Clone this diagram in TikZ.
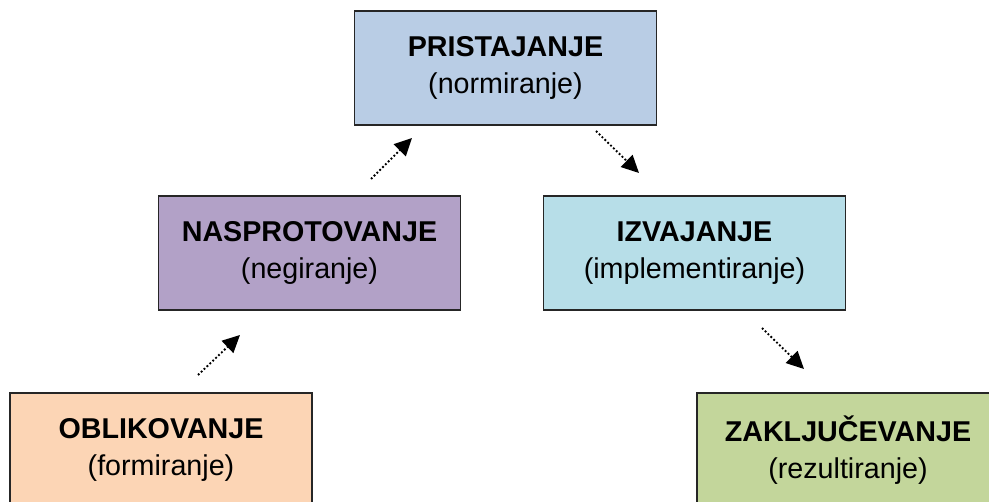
\documentclass[tikz,border=0pt]{standalone}
\usepackage{fontspec}
\setmainfont{Liberation Sans}
\usetikzlibrary{arrows.meta}
\definecolor{cBlue}{HTML}{B9CDE5}
\definecolor{cPurple}{HTML}{B2A1C7}
\definecolor{cAqua}{HTML}{B7DEE8}
\definecolor{cOrange}{HTML}{FCD5B5}
\definecolor{cGreen}{HTML}{C3D69B}
\tikzset{
  phase/.style={draw=black!85, line width=1.1pt, minimum width=226.5pt,
    minimum height=85.5pt, inner sep=0pt, align=center,
    font=\fontsize{21.5}{27.5}\selectfont},
  flow/.style={line width=1.4pt, dash pattern=on 1.4pt off 1.6pt,
    -{Triangle[length=13pt,width=12.5pt]}}
}
\newcommand{\phasetext}[2]{\textbf{#1}\\#2}
\begin{document}
\begin{tikzpicture}[x=0.75pt,y=-0.75pt]
  \useasboundingbox (0,0) rectangle (989,502);
  \node[phase, fill=cBlue]   (prist) at (505.5,68)  {\phasetext{PRISTAJANJE}{(normiranje)}};
  \node[phase, fill=cPurple] (nasp)  at (309.5,253) {\phasetext{NASPROTOVANJE}{(negiranje)}};
  \node[phase, fill=cAqua]   (izv)   at (694.5,253) {\phasetext{IZVAJANJE}{(implementiranje)}};
  \node[phase, fill=cOrange] (obl)   at (161,450)   {\phasetext{OBLIKOVANJE}{(formiranje)}};
  \node[phase, fill=cGreen]  (zak)   at (848,450)   {\phasetext{ZAKLJUČEVANJE}{(rezultiranje)}};
  % free-standing arrow ends between the phases
  \coordinate (oblOut)   at (198,375);
  \coordinate (naspIn)   at (240,335);
  \coordinate (naspOut)  at (371,179);
  \coordinate (pristIn)  at (412,138);
  \coordinate (pristOut) at (596,131);
  \coordinate (izvIn)    at (639,173);
  \coordinate (izvOut)   at (762,328);
  \coordinate (zakIn)    at (804,369);
  \draw[flow] (oblOut) -- (naspIn);
  \draw[flow] (naspOut) -- (pristIn);
  \draw[flow] (pristOut) -- (izvIn);
  \draw[flow] (izvOut) -- (zakIn);
\end{tikzpicture}
\end{document}
